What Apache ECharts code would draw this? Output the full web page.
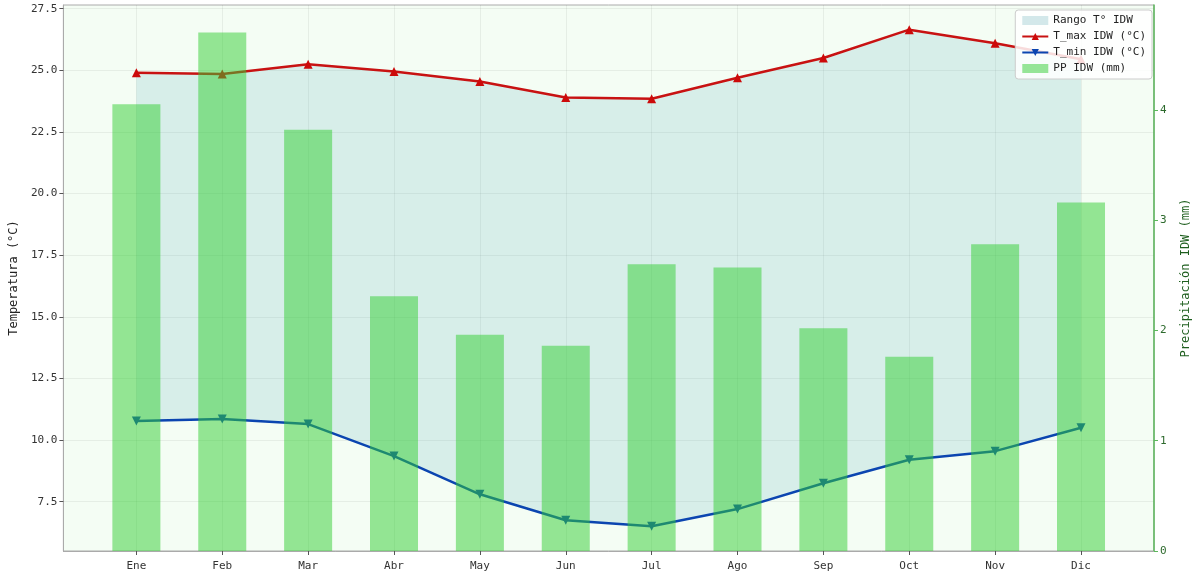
<!DOCTYPE html>
<html>
<head>
<meta charset="utf-8">
<script src="https://cdn.jsdelivr.net/npm/echarts@6/dist/echarts.min.js"></script>
<style>
  html, body { margin: 0; padding: 0; background: #fff; }
  #chart { width: 1200px; height: 581px; }
</style>
</head>
<body>
<div id="chart"></div>
<script>
var meses = ['Ene', 'Feb', 'Mar', 'Abr', 'May', 'Jun', 'Jul', 'Ago', 'Sep', 'Oct', 'Nov', 'Dic'];
var tmax = [24.9, 24.85, 25.25, 24.95, 24.55, 23.9, 23.85, 24.7, 25.5, 26.65, 26.1, 25.45];
var tmin = [10.77, 10.85, 10.65, 9.35, 7.8, 6.75, 6.5, 7.2, 8.25, 9.2, 9.55, 10.5];
var pp = [4.05, 4.70, 3.82, 2.31, 1.96, 1.86, 2.60, 2.57, 2.02, 1.76, 2.78, 3.16];
var tempTicks = [7.5, 10, 12.5, 15, 17.5, 20, 22.5, 25, 27.5];
var ppTicks = [0, 1, 2, 3, 4];

var xs = meses.map(function (m, i) { return i; });
var pair = function (arr) { return arr.map(function (v, i) { return [i, v]; }); };

var mono = 'DejaVu Sans Mono';
var myChart = echarts.init(document.getElementById('chart'));

// banda entre T_min y T_max, dibujada como un solo poligono
function renderBanda(params, api) {
    if (params.dataIndex !== 0) return null;
    var pts = [];
    for (var i = 0; i < tmax.length; i++) pts.push(api.coord([i, tmax[i]]));
    for (var j = tmin.length - 1; j >= 0; j--) pts.push(api.coord([j, tmin[j]]));
    return {
        type: 'polygon',
        shape: { points: pts },
        style: { fill: 'rgba(100,180,190,0.2)' },
        silent: true
    };
}

myChart.setOption({
    animation: false,
    textStyle: { fontFamily: mono },
    grid: {
        left: 62, right: 44, top: 5, bottom: 30,
        show: true,
        backgroundColor: '#f4fdf4',
        borderColor: '#aaaaaa',
        borderWidth: 1
    },
    legend: {
        data: [
            { name: 'Rango T° IDW', icon: 'rect', itemStyle: { color: '#d3e8ea' } },
            'T_max IDW (°C)', 'T_min IDW (°C)',
            { name: 'PP IDW (mm)', icon: 'rect' }
        ],
        orient: 'vertical',
        right: 48, top: 10,
        itemWidth: 26, itemHeight: 9, itemGap: 5,
        padding: [5, 6, 5, 6],
        backgroundColor: 'rgba(255,255,255,0.85)',
        borderColor: '#cccccc', borderWidth: 1, borderRadius: 3,
        textStyle: { fontFamily: mono, fontSize: 11, color: '#222' }
    },
    xAxis: {
        type: 'value',
        min: -0.85, max: 11.85,
        axisLine: { show: true, onZero: false, lineStyle: { color: '#aaaaaa' } },
        axisTick: { show: true, length: 4, customValues: xs, lineStyle: { color: '#555' } },
        axisLabel: {
            customValues: xs, color: '#333', fontSize: 11, margin: 10,
            formatter: function (v) { return meses[Math.round(v)]; }
        },
        splitLine: { show: true, lineStyle: { color: 'rgba(0,0,0,0.06)' } }
    },
    yAxis: [
        {
            type: 'value',
            min: 5.5, max: 27.65,
            name: 'Temperatura (°C)', nameLocation: 'middle', nameGap: 42,
            nameTextStyle: { color: '#222', fontSize: 12, fontFamily: mono },
            axisLine: { show: true, onZero: false, lineStyle: { color: '#aaaaaa' } },
            axisTick: { show: true, length: 4, customValues: tempTicks, lineStyle: { color: '#555' } },
            axisLabel: {
                customValues: tempTicks, color: '#333', fontSize: 11, margin: 6,
                formatter: function (v) { return v.toFixed(1); }
            },
            splitLine: { show: true, lineStyle: { color: 'rgba(0,0,0,0.06)' } }
        },
        {
            type: 'value',
            min: 0, max: 4.95,
            position: 'right',
            name: 'Precipitación IDW (mm)', nameLocation: 'middle', nameGap: 26, nameRotate: 90,
            nameTextStyle: { color: '#1f5f1f', fontSize: 12, fontFamily: mono },
            axisLine: { show: true, onZero: false, lineStyle: { color: '#5cb85c', width: 1.5 } },
            axisTick: { show: true, length: 4, customValues: ppTicks, lineStyle: { color: '#5cb85c' } },
            axisLabel: { customValues: ppTicks, color: '#2d6a2d', fontSize: 11, margin: 6 },
            splitLine: { show: false }
        }
    ],
    series: [
        {
            name: 'Rango T° IDW', type: 'custom',
            renderItem: renderBanda,
            data: pair(tmax),
            itemStyle: { color: '#d3e8ea' },
            encode: { x: 0, y: 1 },
            z: 1, silent: true
        },
        {
            name: 'T_max IDW (°C)', type: 'line',
            data: pair(tmax),
            symbol: 'triangle', symbolSize: 9,
            lineStyle: { color: '#c81212', width: 2.5 },
            itemStyle: { color: '#cc0a0a' },
            z: 3
        },
        {
            name: 'T_min IDW (°C)', type: 'line',
            data: pair(tmin),
            symbol: 'triangle', symbolSize: 9, symbolRotate: 180,
            lineStyle: { color: '#0b45b0', width: 2.5 },
            itemStyle: { color: '#0b45b0' },
            z: 3
        },
        {
            name: 'PP IDW (mm)', type: 'bar',
            yAxisIndex: 1,
            data: pair(pp),
            barWidth: 48,
            itemStyle: { color: 'rgba(50,205,50,0.5)' },
            z: 5
        }
    ]
});
</script>
</body>
</html>
